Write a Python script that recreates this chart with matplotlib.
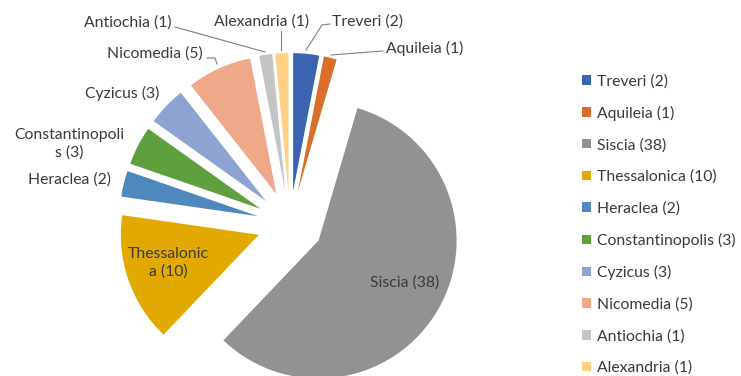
import matplotlib
matplotlib.use("Agg")
import matplotlib.pyplot as plt

# mints and coin counts
mints = ["Treveri", "Aquileia", "Siscia", "Thessalonica", "Heraclea",
         "Constantinopolis", "Cyzicus", "Nicomedia", "Antiochia", "Alexandria"]
counts = [2, 1, 38, 10, 2, 3, 3, 5, 1, 1]
colors = ["#3A64AF", "#D8702C", "#929292", "#E2AA00", "#4E88BD",
          "#609F3D", "#8FA3D3", "#F0A88A", "#C4C4C4", "#FFD083"]

W, H = 741, 376
plt.rcParams["font.family"] = ["Lato", "DejaVu Sans"]
txt_color = "#3a3a3a"
fs = 11.3

fig = plt.figure(figsize=(W / 100, H / 100), dpi=100)
ax = fig.add_axes([0, 0, 1, 1])

def px(x, y):
    # pixel position (origin top-left) -> data coords
    return x, H - y

cx, cy = px(290, 224)
wedges, _ = ax.pie(counts, colors=colors, startangle=90, counterclock=False,
                   radius=138, center=(cx, cy), explode=[33] * len(counts),
                   wedgeprops=dict(linewidth=0))
ax.set_xlim(0, W)
ax.set_ylim(0, H)
ax.set_axis_off()

labels = ["%s (%d)" % (m, c) for m, c in zip(mints, counts)]

# outside / inside data labels
lab_pos = {
    "Treveri": (367, 22),
    "Aquileia": (425, 48),
    "Siscia": (405, 283),
    "Thessalonica": (168, 263),
    "Heraclea": (70, 180),
    "Constantinopolis": (69, 144),
    "Cyzicus": (122, 93),
    "Nicomedia": (155, 54),
    "Antiochia": (128, 23),
    "Alexandria": (262, 22),
}
wrapped = {"Thessalonica": "Thessalonic\na (10)",
           "Constantinopolis": "Constantinopoli\ns (3)"}
for m, lab in zip(mints, labels):
    x, y = px(*lab_pos[m])
    ax.text(x, y, wrapped.get(m, lab), ha="center", va="center",
            fontsize=fs, color=txt_color, linespacing=1.3)

# leader lines
leaders = [
    [(175, 27), (265, 52)],
    [(281, 31), (281, 50)],
    [(330, 24), (322, 25), (306, 50)],
    [(383, 51), (331, 55)],
    [(207, 58), (215, 58), (217, 64)],
]
for pts in leaders:
    xs = [px(*p)[0] for p in pts]
    ys = [px(*p)[1] for p in pts]
    ax.plot(xs, ys, color="#7f7f7f", linewidth=0.8)

ax.legend(wedges, labels, loc="upper left",
          bbox_to_anchor=(582 / W, 1 - 74 / H), frameon=False,
          fontsize=fs, labelcolor=txt_color, handlelength=0.55,
          handleheight=0.55, handletextpad=0.4, labelspacing=1.1,
          borderaxespad=0, borderpad=0)

fig.savefig("out.png", dpi=100)
